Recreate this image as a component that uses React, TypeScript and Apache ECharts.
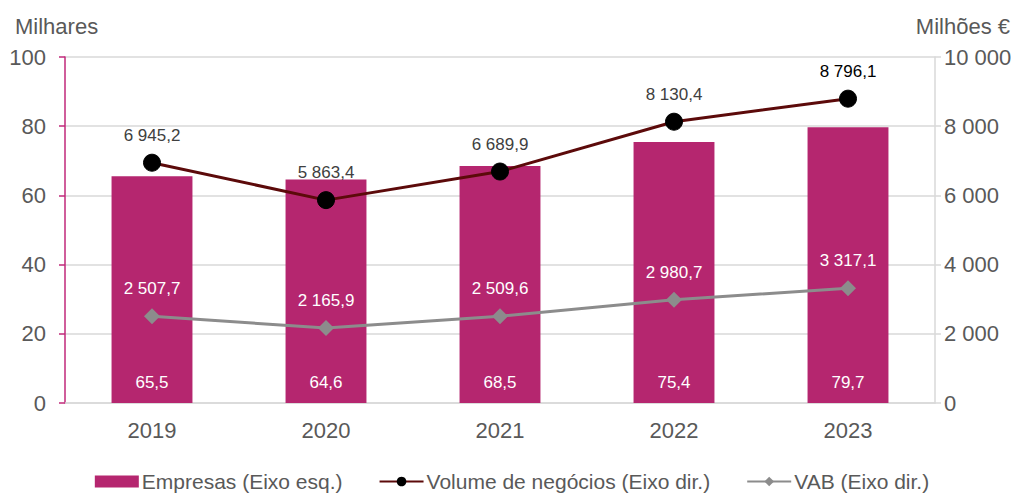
import React, { useEffect, useRef } from "react";
import * as echarts from "echarts";

const years = ["2019", "2020", "2021", "2022", "2023"];
const empresas = [65.5, 64.6, 68.5, 75.4, 79.7];
const volume = [6945.2, 5863.4, 6689.9, 8130.4, 8796.1];
const vab = [2507.7, 2165.9, 2509.6, 2980.7, 3317.1];

const fmt = (v: number, dec: number) => {
  const s = v.toFixed(dec);
  const [i, d] = s.split(".");
  const ii = i.replace(/\B(?=(\d{3})+(?!\d))/g, " ");
  return d ? ii + "," + d : ii;
};

const FONT = "Liberation Sans, Arial, sans-serif";

export default function App() {
  const ref = useRef<HTMLDivElement>(null);
  useEffect(() => {
    const chart = echarts.init(ref.current!, null, { renderer: "svg" });
    chart.setOption({
      animation: false,
      textStyle: { fontFamily: FONT },
      grid: { left: 65, right: 89, top: 57, bottom: 92, containLabel: false },
      graphic: [
        { type: "text", left: 15, top: 15, style: { text: "Milhares", fontSize: 22, fill: "#595959", fontFamily: FONT } },
        { type: "text", right: 14, top: 15, style: { text: "Milhões €", fontSize: 22, fill: "#595959", fontFamily: FONT } },
      ],
      legend: {
        top: 471,
        left: "center",
        padding: 0,
        itemGap: 36,
        itemWidth: 44,
        itemHeight: 12,
        textStyle: { fontSize: 21, color: "#595959", fontFamily: FONT, padding: [0, 0, 0, -2] },
        data: [
          { name: "Empresas (Eixo esq.)", icon: "rect" },
          { name: "Volume de negócios (Eixo dir.)" },
          { name: "VAB (Eixo dir.)" },
        ],
      },
      xAxis: {
        type: "category",
        data: years,
        axisLine: { lineStyle: { color: "#d9d9d9", width: 1.5 } },
        axisTick: { show: false },
        axisLabel: { fontSize: 22, color: "#595959", margin: 16, fontFamily: FONT },
      },
      yAxis: [
        {
          type: "value",
          min: 0,
          max: 100,
          interval: 20,
          axisLine: { show: true, lineStyle: { color: "#c0287a", width: 1.5 } },
          axisTick: { show: true, length: 6, lineStyle: { color: "#c0287a", width: 1.5 } },
          axisLabel: { fontSize: 22, color: "#595959", margin: 19, fontFamily: FONT },
          splitLine: { lineStyle: { color: "#d9d9d9", width: 1.5 } },
        },
        {
          type: "value",
          min: 0,
          max: 10000,
          interval: 2000,
          axisLine: { show: true, lineStyle: { color: "#d9d9d9", width: 1.5 } },
          axisTick: { show: true, length: 6, lineStyle: { color: "#d9d9d9", width: 1.5 } },
          axisLabel: {
            fontSize: 22,
            color: "#595959",
            margin: 9,
            fontFamily: FONT,
            formatter: (v: number) => fmt(v, 0),
          },
          splitLine: { show: false },
        },
      ],
      series: [
        {
          name: "Empresas (Eixo esq.)",
          type: "bar",
          yAxisIndex: 0,
          data: empresas,
          barWidth: "46.5%",
          itemStyle: { color: "#b5266f" },
          label: {
            show: true,
            position: "insideBottom",
            distance: 12,
            color: "#ffffff",
            fontSize: 17,
            fontFamily: FONT,
            formatter: (p: any) => fmt(p.value, 1),
          },
        },
        {
          name: "Volume de negócios (Eixo dir.)",
          type: "line",
          yAxisIndex: 1,
          data: volume.map((v, i) => ({
            value: v,
            label: { color: i === volume.length - 1 ? "#000000" : "#404040" },
          })),
          symbol: "circle",
          symbolSize: 17,
          lineStyle: { color: "#5c0a0a", width: 3 },
          itemStyle: { color: "#000000", borderColor: "#000000" },
          label: {
            show: true,
            position: "top",
            distance: 10,
            color: "#404040",
            fontSize: 17,
            fontFamily: FONT,
            formatter: (p: any) => fmt(p.value, 1),
          },
          z: 4,
        },
        {
          name: "VAB (Eixo dir.)",
          type: "line",
          yAxisIndex: 1,
          data: vab,
          symbol: "diamond",
          symbolSize: 16,
          lineStyle: { color: "#8c8c8c", width: 3 },
          itemStyle: { color: "#8c8c8c" },
          label: {
            show: true,
            position: "top",
            distance: 11,
            color: "#ffffff",
            fontSize: 17,
            fontFamily: FONT,
            formatter: (p: any) => fmt(p.value, 1),
          },
          z: 3,
        },
      ],
    });
    return () => chart.dispose();
  }, []);
  return <div ref={ref} style={{ width: 1024, height: 495, position: "absolute", left: 0, top: 0 }} />;
}
